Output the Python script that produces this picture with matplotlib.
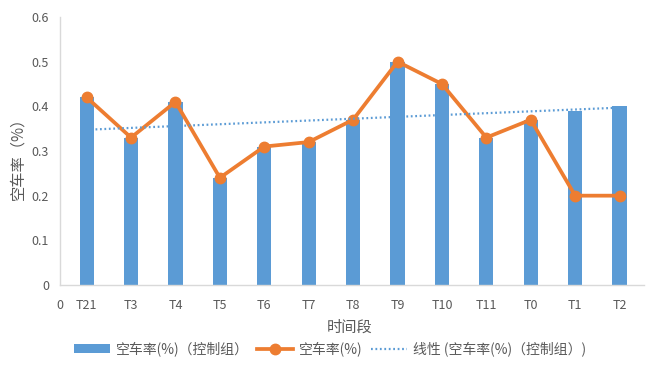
import matplotlib
matplotlib.use("Agg")
import matplotlib.pyplot as plt
import numpy as np
from matplotlib.lines import Line2D
from matplotlib.patches import Patch

plt.rcParams['font.family'] = ['Noto Sans CJK SC', 'DejaVu Sans']

categories = ["T21", "T3", "T4", "T5", "T6", "T7", "T8", "T9", "T10", "T11", "T0", "T1", "T2"]
control_values = [0.42, 0.33, 0.41, 0.24, 0.31, 0.32, 0.37, 0.50, 0.45, 0.33, 0.37, 0.39, 0.40]
line_values = [0.42, 0.33, 0.41, 0.24, 0.31, 0.32, 0.37, 0.50, 0.45, 0.33, 0.37, 0.20, 0.20]
yticks = [0, 0.1, 0.2, 0.3, 0.4, 0.5, 0.6]
ytick_labels = ["0", "0.1", "0.2", "0.3", "0.4", "0.5", "0.6"]

label_bar = "空车率(%)（控制组）"
label_line = "空车率(%)"
label_trend = "线性 (空车率(%)（控制组）)"

BLUE = "#5B9BD5"
ORANGE = "#ED7D31"
TEXT = "#595959"
AXIS = "#D9D9D9"

fig = plt.figure(figsize=(6.57, 3.73), dpi=100)
ax = fig.add_axes([60/657, (373-285)/373, (644-60)/657, (285-17)/373])

x = np.arange(len(categories))
ax.bar(x, control_values, width=0.32, color=BLUE, zorder=2)
ax.plot(x, line_values, color=ORANGE, lw=2.7, marker='o', ms=7.5, zorder=3)

# linear trendline of control group
coef = np.polyfit(x, control_values, 1)
ax.plot(x, np.polyval(coef, x), color=BLUE, lw=1.6, ls=(0, (0.8, 1.2)), zorder=4)

ax.set_xlim(-0.6, 12.55)
ax.set_ylim(0, 0.6)
ax.set_yticks(yticks)
ax.set_yticklabels(ytick_labels)
ax.set_xticks(x)
ax.set_xticklabels(categories)
ax.tick_params(axis='both', length=0, colors=TEXT, labelsize=9)
ax.tick_params(axis='x', pad=10)
ax.tick_params(axis='y', pad=8)
for s in ['top', 'right']:
    ax.spines[s].set_visible(False)
for s in ['left', 'bottom']:
    ax.spines[s].set_color(AXIS)
    ax.spines[s].set_linewidth(1)

# stray "0" label at the x-axis origin
ax.annotate("0", xy=(-0.6, 0), xycoords='data', xytext=(0, -10),
            textcoords='offset points', ha='center', va='top',
            color=TEXT, fontsize=9, annotation_clip=False)

fig.text(350/657, (373-327)/373, "时间段", ha='center', va='center', fontsize=11, color=TEXT)
fig.text(18/657, (373-155)/373, "空车率（%）", ha='center', va='center', rotation=90,
         fontsize=11, color=TEXT)

handles = [
    Patch(facecolor=BLUE, edgecolor='none'),
    Line2D([0], [0], color=ORANGE, lw=2.7, marker='o', ms=7.5),
    Line2D([0], [0], color=BLUE, lw=1.6, ls=(0, (0.8, 1.2))),
]
leg = fig.legend(handles, [label_bar, label_line, label_trend], loc='center',
                 bbox_to_anchor=(330/657, (373-349)/373), ncol=3, frameon=False,
                 fontsize=10, handlelength=2.6, columnspacing=0.6, handletextpad=0.4)
for t in leg.get_texts():
    t.set_color(TEXT)

fig.savefig("out.png", dpi=100)
